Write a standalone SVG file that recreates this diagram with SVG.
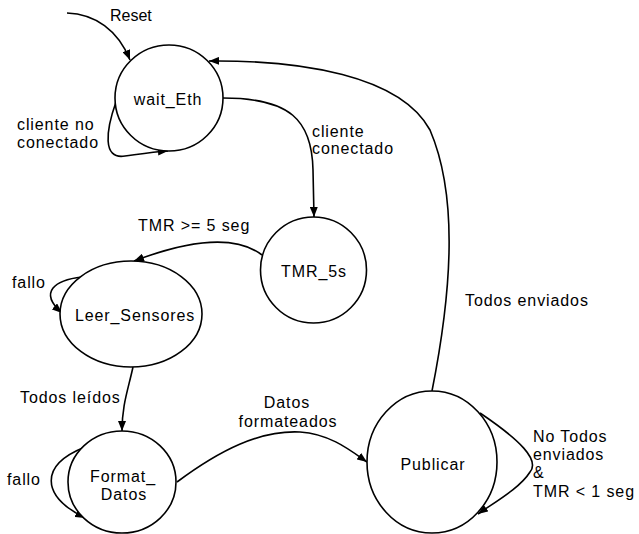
<svg xmlns="http://www.w3.org/2000/svg" width="639" height="534" viewBox="0 0 639 534">
<defs>
<marker id="arr" viewBox="0 0 10 8" refX="10" refY="4" markerWidth="10" markerHeight="8" markerUnits="userSpaceOnUse" orient="auto">
<path d="M0,0 L10,4 L0,8 z" fill="#000"/>
</marker>
</defs>
<style>
.node{fill:#fff;stroke:#000;stroke-width:1.6}
.edge{fill:none;stroke:#000;stroke-width:1.6;marker-end:url(#arr)}
text{font-family:"Liberation Sans",Arial,sans-serif;font-size:16px;letter-spacing:0.9px;fill:#000}
.c{text-anchor:middle}
</style>
<rect width="639" height="534" fill="#fff"/>
<g id="connectors">
<path class="edge" d="M67 13 C95 14 118 30 130 60"/>
<path class="edge" d="M116 102 C106 130 102 160 125 156 C140 154 152 152 168 151"/>
<path class="edge" d="M432 391 C450 300 460 200 430 130 C400 75 300 60 209 61"/>
<path class="edge" d="M223 98 C290 98 312 120 313 170 L314 217"/>
<path class="edge" d="M262 255 C240 238 200 236 134 261"/>
<path class="edge" d="M82 277 C55 280 38 292 62 313"/>
<path class="edge" d="M133 367 C128 390 122 405 122 431"/>
<path class="edge" d="M85 447 C40 465 40 495 85 518"/>
<path class="edge" d="M177 482 C220 450 260 430 300 432 C330 434 350 450 367 462"/>
<path class="edge" d="M480 413 C520 440 540 460 530 472 C520 488 495 502 478 514"/>
</g>
<g id="wait_Eth">
<ellipse class="node" cx="169" cy="98" rx="54" ry="53"/>
<text class="c" x="168" y="105">wait_Eth</text>
</g>
<g id="TMR_5s">
<ellipse class="node" cx="313.5" cy="270" rx="53" ry="53"/>
<text class="c" x="314" y="277">TMR_5s</text>
</g>
<g id="Leer_Sensores">
<ellipse class="node" cx="131" cy="314" rx="71" ry="53"/>
<text class="c" x="135" y="321">Leer_Sensores</text>
</g>
<g id="Format_Datos">
<ellipse class="node" cx="122" cy="482" rx="54" ry="51"/>
<text class="c" x="123" y="482">Format_</text>
<text class="c" x="124" y="500">Datos</text>
</g>
<g id="Publicar">
<ellipse class="node" cx="432" cy="462" rx="65" ry="71"/>
<text class="c" x="433" y="470">Publicar</text>
</g>
<g id="labels">
<text x="110" y="21" style="letter-spacing:0">Reset</text>
<text x="17" y="130">cliente no</text>
<text x="17" y="148">conectado</text>
<text x="312" y="137">cliente</text>
<text x="312" y="154">conectado</text>
<text x="138" y="231">TMR &gt;= 5 seg</text>
<text x="12" y="288">fallo</text>
<text x="465" y="306">Todos enviados</text>
<text x="20" y="403">Todos leídos</text>
<text class="c" x="287" y="408">Datos</text>
<text class="c" x="288" y="427">formateados</text>
<text x="7" y="485">fallo</text>
<text x="533" y="442">No Todos</text>
<text x="533" y="460">enviados</text>
<text x="533" y="478">&amp;</text>
<text x="533" y="497">TMR &lt; 1 seg</text>
</g>
</svg>
